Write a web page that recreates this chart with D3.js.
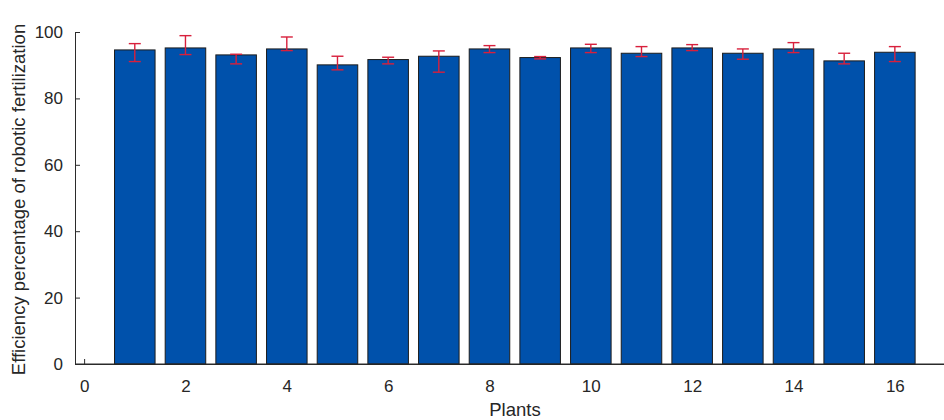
<!DOCTYPE html>
<html>
<head>
<meta charset="utf-8">
<script src="https://cdn.jsdelivr.net/npm/d3@7"></script>
<style>
  html, body { margin: 0; padding: 0; background: #fff; }
  svg { display: block; font-family: "Liberation Sans", Arial, Helvetica, sans-serif; }
</style>
</head>
<body>
<svg id="chart" width="944" height="420"></svg>
<script>
// Robotic fertilization efficiency per plant (mean with error range)
const plants = [1, 2, 3, 4, 5, 6, 7, 8, 9, 10, 11, 12, 13, 14, 15, 16];
const efficiency = [94.6, 95.2, 93.1, 94.9, 90.1, 91.7, 92.7, 94.9, 92.3, 95.2, 93.6, 95.2, 93.6, 94.9, 91.3, 93.9];
const errHigh = [96.5, 98.9, 93.3, 98.5, 92.7, 92.4, 94.3, 95.9, 92.6, 96.3, 95.6, 96.2, 94.9, 96.8, 93.6, 95.6];
const errLow = [91.1, 93.2, 90.4, 94.4, 88.6, 90.4, 87.9, 93.8, 91.9, 93.8, 92.6, 94.4, 91.8, 93.8, 90.4, 91.1];
const xTicks = [0, 2, 4, 6, 8, 10, 12, 14, 16];
const yTicks = [0, 20, 40, 60, 80, 100];

const svg = d3.select("#chart");
const axisColor = "#2b2b2b";
const textColor = "#262626";
const tickFont = 17;
const titleFont = 18.5;

const x = d3.scaleLinear().domain([-0.18, 16.97]).range([75, 944]);
const y = d3.scaleLinear().domain([0, 100]).range([364, 32]);
const barW = x(0.8) - x(0);

// x axis: inward ticks, labels below
const xAxis = svg.append("g").attr("transform", `translate(0,${y(0)})`)
  .call(d3.axisBottom(x).tickValues(xTicks).tickSizeInner(-5).tickSizeOuter(0));
xAxis.select(".domain").attr("stroke", axisColor);
xAxis.selectAll(".tick line").attr("stroke", axisColor);
xAxis.selectAll(".tick text").attr("fill", textColor).attr("font-size", tickFont)
  .attr("dy", null).attr("y", 28);

// y axis: inward ticks, labels left
const yAxis = svg.append("g").attr("transform", `translate(${x.range()[0]},0)`)
  .call(d3.axisLeft(y).tickValues(yTicks).tickSizeInner(-5).tickSizeOuter(0).tickPadding(12));
yAxis.select(".domain").attr("stroke", axisColor);
yAxis.selectAll(".tick line").attr("stroke", axisColor);
yAxis.selectAll(".tick text").attr("fill", textColor).attr("font-size", tickFont);

// bars
svg.append("g").selectAll("rect").data(plants).join("rect")
  .attr("x", (d) => x(d) - barW / 2)
  .attr("y", (d, i) => y(efficiency[i]))
  .attr("width", barW)
  .attr("height", (d, i) => y(0) - y(efficiency[i]))
  .attr("fill", "#0051ab")
  .attr("stroke", "#1c1c1c")
  .attr("stroke-width", 1);

// redraw baseline over bars
svg.append("line")
  .attr("x1", x.range()[0]).attr("x2", x.range()[1])
  .attr("y1", y(0)).attr("y2", y(0))
  .attr("stroke", axisColor);

// error bars
const capW = 6;
const eb = svg.append("g").attr("stroke", "#d8203c").attr("stroke-width", 1.4).attr("fill", "none");
plants.forEach((p, i) => {
  const cx = x(p);
  eb.append("line").attr("x1", cx).attr("x2", cx).attr("y1", y(errHigh[i])).attr("y2", y(errLow[i]));
  eb.append("line").attr("x1", cx - capW).attr("x2", cx + capW).attr("y1", y(errHigh[i])).attr("y2", y(errHigh[i]));
  eb.append("line").attr("x1", cx - capW).attr("x2", cx + capW).attr("y1", y(errLow[i])).attr("y2", y(errLow[i]));
});

// axis titles
svg.append("text")
  .attr("x", 515).attr("y", 416)
  .attr("text-anchor", "middle")
  .attr("font-size", titleFont).attr("fill", textColor)
  .text("Plants");

svg.append("text")
  .attr("transform", "translate(25,199.5) rotate(-90)")
  .attr("text-anchor", "middle")
  .attr("font-size", titleFont).attr("fill", textColor)
  .text("Efficiency percentage of robotic fertilization");
</script>
</body>
</html>
